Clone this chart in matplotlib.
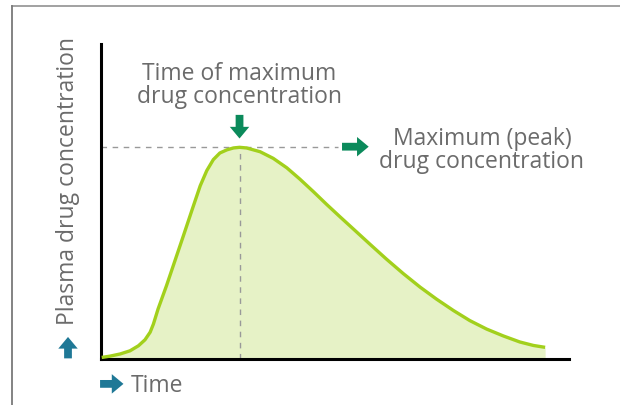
import matplotlib
matplotlib.use("Agg")
import matplotlib.pyplot as plt
from matplotlib.lines import Line2D

plt.rcParams['font.family'] = ['Open Sans', 'DejaVu Sans']

# curve (time, plasma concentration)
time = [0.015, 0.19, 0.41, 0.62, 0.80, 0.94, 1.05, 1.12, 1.22, 1.40, 1.58,
        1.76, 1.94, 2.12, 2.26, 2.40, 2.54, 2.69, 2.83, 2.96, 3.11, 3.40,
        3.68, 3.97, 4.25, 4.54, 4.82, 5.11, 5.39, 5.75, 6.10, 6.46, 6.82,
        7.17, 7.53, 7.88, 8.24, 8.60, 8.95, 9.24, 9.49]
conc = [0.5, 0.9, 1.6, 2.6, 4.2, 6.1, 8.5, 11.1, 15.9, 23.3, 31.2,
        39.1, 47.1, 55.0, 59.8, 63.3, 65.4, 66.4, 67.0, 67.2, 67.0, 65.8,
        63.7, 60.7, 57.1, 53.1, 49.1, 45.1, 41.3, 36.4, 31.7, 27.1, 22.8,
        19.0, 15.4, 12.2, 9.5, 7.3, 5.4, 4.3, 3.7]
peak_time = 2.96
peak_conc = 67.4

label_peak_time = "Time of maximum\ndrug concentration"
label_peak_conc = "Maximum (peak)\ndrug concentration"
label_y = "Plasma drug concentration"
label_x = "Time"

line_green = '#a2d01c'
fill_green = '#e6f2c6'
arrow_green = '#0b8a5b'
arrow_blue = '#1f7896'
text_grey = '#6b6b6b'

fig = plt.figure(figsize=(6.2, 4.06), dpi=100)
ax = fig.add_axes([101/620, 46/406, 468/620, 315/406])
ax.set_xlim(0, 10)
ax.set_ylim(0, 100)

ax.fill_between(time, conc, 0, color=fill_green, lw=0, zorder=1)
ax.plot(time, conc, color=line_green, lw=2.4, solid_capstyle='butt',
        solid_joinstyle='round', zorder=3)

ax.plot([0, 5.06], [peak_conc, peak_conc], color='#999999', lw=1,
        dashes=(4, 4), zorder=2)
ax.plot([peak_time, peak_time], [0, peak_conc], color='#999999', lw=1,
        dashes=(4, 4), zorder=2)

for s in ['top', 'right']:
    ax.spines[s].set_visible(False)
for s in ['left', 'bottom']:
    ax.spines[s].set_linewidth(2.2)
    ax.spines[s].set_color('black')
ax.set_xticks([])
ax.set_yticks([])

arrow = dict(arrowstyle='simple,head_length=0.6,head_width=1.0,tail_width=0.4',
             lw=0, shrinkA=0, shrinkB=0, mutation_scale=14)

# green pointers
ax.annotate('', xy=(peak_time, 70.0), xytext=(peak_time, 77.5),
            arrowprops=dict(arrow, color=arrow_green), annotation_clip=False)
ax.annotate('', xy=(5.72, peak_conc), xytext=(5.15, peak_conc),
            arrowprops=dict(arrow, color=arrow_green), annotation_clip=False)

# axis arrows
ax.annotate('', xy=(-0.705, 7.0), xytext=(-0.705, 0.2),
            arrowprops=dict(arrow, color=arrow_blue), annotation_clip=False)
ax.annotate('', xy=(0.48, -7.9), xytext=(-0.02, -7.9),
            arrowprops=dict(arrow, color=arrow_blue), annotation_clip=False)

ax.text(peak_time, 87.2, label_peak_time, ha='center', va='center',
        fontsize=16.5, color=text_grey, linespacing=0.95)
ax.text(8.14, 66.6, label_peak_conc, ha='center', va='center',
        fontsize=16.5, color=text_grey, linespacing=0.95)
ax.text(-0.705, 56.8, label_y, rotation=90, ha='center', va='center',
        fontsize=16.5, color=text_grey)
ax.text(0.64, -8.2, label_x, ha='left', va='center', fontsize=16.5,
        color=text_grey)

# partial frame around the figure
fig.add_artist(Line2D([12/620, 1], [1 - 7/406, 1 - 7/406],
                      transform=fig.transFigure, color='#9a9a9a', lw=1.3))
fig.add_artist(Line2D([12/620, 12/620], [0, 1 - 7/406],
                      transform=fig.transFigure, color='#7a7a7a', lw=1.3))

fig.savefig('out.png', dpi=100)
